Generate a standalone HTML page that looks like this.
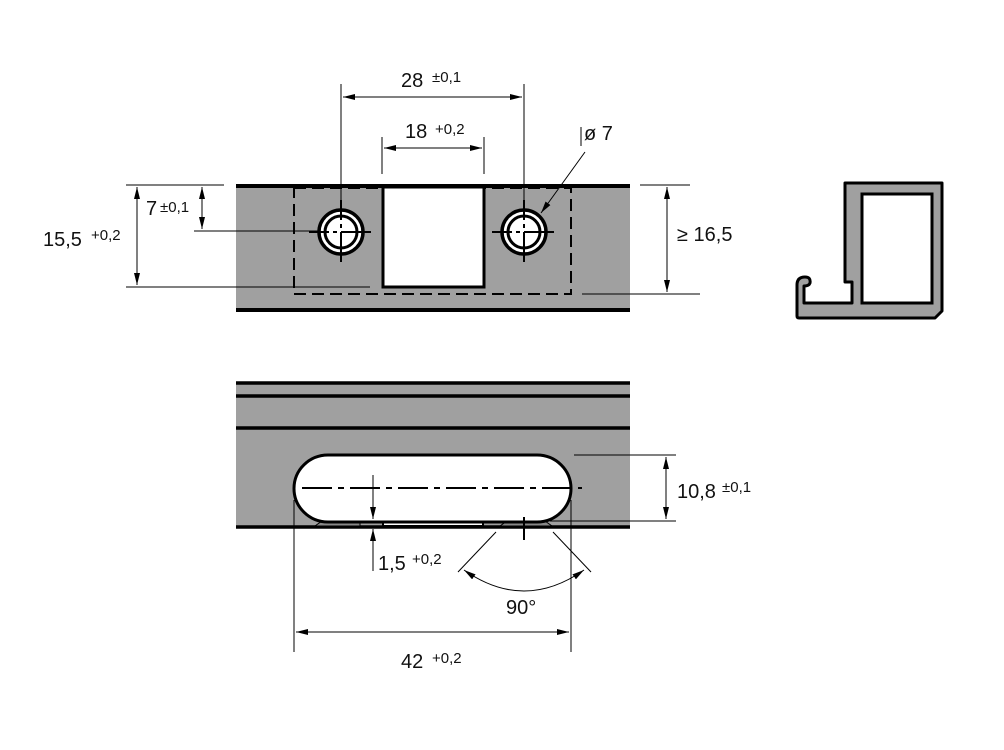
<!DOCTYPE html>
<html><head><style>
html,body{margin:0;padding:0;background:#fff;width:1004px;height:750px;overflow:hidden}
svg text{font-family:"Liberation Sans","DejaVu Sans",sans-serif;fill:#111}
</style></head><body>
<svg width="1004" height="750" viewBox="0 0 1004 750" xmlns="http://www.w3.org/2000/svg">
<defs>
<marker id="a" viewBox="0 0 12 6" refX="12" refY="3" markerWidth="12" markerHeight="6" orient="auto-start-reverse" markerUnits="userSpaceOnUse"><path d="M0,0L12,3L0,6z" fill="#000"/></marker>
</defs>
<!-- TOP VIEW -->
<rect x="236" y="185" width="394" height="125" fill="#a0a0a0"/>
<line x1="236" y1="186" x2="630" y2="186" stroke="#000" stroke-width="4"/>
<line x1="236" y1="310" x2="630" y2="310" stroke="#000" stroke-width="4"/>
<rect x="294" y="188" width="277" height="106" fill="none" stroke="#000" stroke-width="2" stroke-dasharray="12,6"/>
<rect x="383" y="187" width="101" height="100" fill="#fff" stroke="#000" stroke-width="3"/>
<g stroke="#000">
<circle cx="341" cy="232" r="22" fill="#fff" stroke-width="3.5"/>
<circle cx="341" cy="232" r="16" fill="none" stroke-width="3"/>
<circle cx="524" cy="232" r="22" fill="#fff" stroke-width="3.5"/>
<circle cx="524" cy="232" r="16" fill="none" stroke-width="3"/>
<g stroke-width="2">
<line x1="309" y1="232" x2="373" y2="232" stroke-dasharray="20,4,4,4,30"/>
<line x1="341" y1="200" x2="341" y2="264" stroke-dasharray="20,4,4,4,30"/>
<line x1="492" y1="232" x2="556" y2="232" stroke-dasharray="20,4,4,4,30"/>
<line x1="524" y1="200" x2="524" y2="264" stroke-dasharray="20,4,4,4,30"/>
</g>
</g>
<!-- top dims -->
<g stroke="#000" stroke-width="1" fill="none">
<line x1="341" y1="84" x2="341" y2="210"/>
<line x1="524" y1="84" x2="524" y2="210"/>
<line x1="343" y1="97" x2="522" y2="97" marker-start="url(#a)" marker-end="url(#a)"/>
<line x1="382" y1="137" x2="382" y2="174"/>
<line x1="484" y1="137" x2="484" y2="174"/>
<line x1="384" y1="148" x2="482" y2="148" marker-start="url(#a)" marker-end="url(#a)"/>
<line x1="581" y1="127" x2="581" y2="146"/>
<line x1="585" y1="152" x2="541" y2="213" marker-end="url(#a)"/>
<line x1="126" y1="185" x2="224" y2="185"/>
<line x1="126" y1="287" x2="370" y2="287"/>
<line x1="194" y1="231" x2="320" y2="231"/>
<line x1="137" y1="187" x2="137" y2="285" marker-start="url(#a)" marker-end="url(#a)"/>
<line x1="202" y1="187" x2="202" y2="229" marker-start="url(#a)" marker-end="url(#a)"/>
<line x1="640" y1="185" x2="690" y2="185"/>
<line x1="582" y1="294" x2="700" y2="294"/>
<line x1="667" y1="187" x2="667" y2="292" marker-start="url(#a)" marker-end="url(#a)"/>
</g>
<text x="401" y="87" font-size="20">28</text><text x="432" y="82" font-size="15">±0,1</text>
<text x="405" y="138" font-size="20">18</text><text x="435" y="134" font-size="15">+0,2</text>
<text x="584" y="140" font-size="20">ø 7</text>
<text x="146" y="215" font-size="20">7</text><text x="160" y="212" font-size="15">±0,1</text>
<text x="43" y="246" font-size="20">15,5</text><text x="91" y="240" font-size="15">+0,2</text>
<text x="677" y="241" font-size="20">≥ 16,5</text>
<!-- PROFILE -->
<path d="M845,183 L942,183 L942,311 L935,318 L799,318 Q797,318 797,316 L797,285 Q797,277 805,277 Q811,277 810,283 Q809,286 804,286 L804,303 L852,303 L852,282 L845,282 Z" fill="#a0a0a0" stroke="#000" stroke-width="3" stroke-linejoin="round"/>
<rect x="862" y="194" width="70" height="109" fill="#fff" stroke="#000" stroke-width="3"/>
<!-- BOTTOM VIEW -->
<rect x="236" y="383" width="394" height="144" fill="#a0a0a0"/>
<g stroke="#000" stroke-width="3.5">
<line x1="236" y1="383" x2="630" y2="383"/>
<line x1="236" y1="396" x2="630" y2="396"/>
<line x1="236" y1="428" x2="630" y2="428"/>
<line x1="236" y1="527" x2="630" y2="527"/>
</g>
<path d="M322,521 L360,521 L360,526 L315,526 Z" fill="#888" stroke="#000" stroke-width="1"/>
<path d="M545,521 L507,521 L500,526 L552,526 Z" fill="#888" stroke="#000" stroke-width="1"/>
<rect x="383" y="520" width="100" height="6" fill="#fff" stroke="#000" stroke-width="2"/>
<rect x="294" y="455" width="277" height="67" rx="34" ry="34" fill="#fff" stroke="#000" stroke-width="3"/>
<line x1="302" y1="488" x2="582" y2="488" stroke="#000" stroke-width="2" stroke-dasharray="30,6,6,6"/>
<line x1="524" y1="517" x2="524" y2="540" stroke="#000" stroke-width="2"/>
<g stroke="#000" stroke-width="1" fill="none">
<line x1="574" y1="455" x2="676" y2="455"/>
<line x1="550" y1="521" x2="676" y2="521"/>
<line x1="666" y1="457" x2="666" y2="519" marker-start="url(#a)" marker-end="url(#a)"/>
<line x1="373" y1="475" x2="373" y2="519" marker-end="url(#a)"/>
<line x1="373" y1="571" x2="373" y2="529" marker-end="url(#a)"/>
<line x1="294" y1="500" x2="294" y2="652"/>
<line x1="571" y1="500" x2="571" y2="652"/>
<line x1="296" y1="632" x2="569" y2="632" marker-start="url(#a)" marker-end="url(#a)"/>
<line x1="496" y1="532" x2="458" y2="572"/>
<line x1="553" y1="532" x2="591" y2="572"/>
<path d="M464,570 Q524,612 584,570" marker-start="url(#a)" marker-end="url(#a)"/>
</g>
<text x="677" y="498" font-size="20">10,8</text><text x="722" y="492" font-size="15">±0,1</text>
<text x="378" y="570" font-size="20">1,5</text><text x="412" y="564" font-size="15">+0,2</text>
<text x="506" y="614" font-size="20">90°</text>
<text x="401" y="668" font-size="20">42</text><text x="432" y="663" font-size="15">+0,2</text>
</svg>
</body></html>
